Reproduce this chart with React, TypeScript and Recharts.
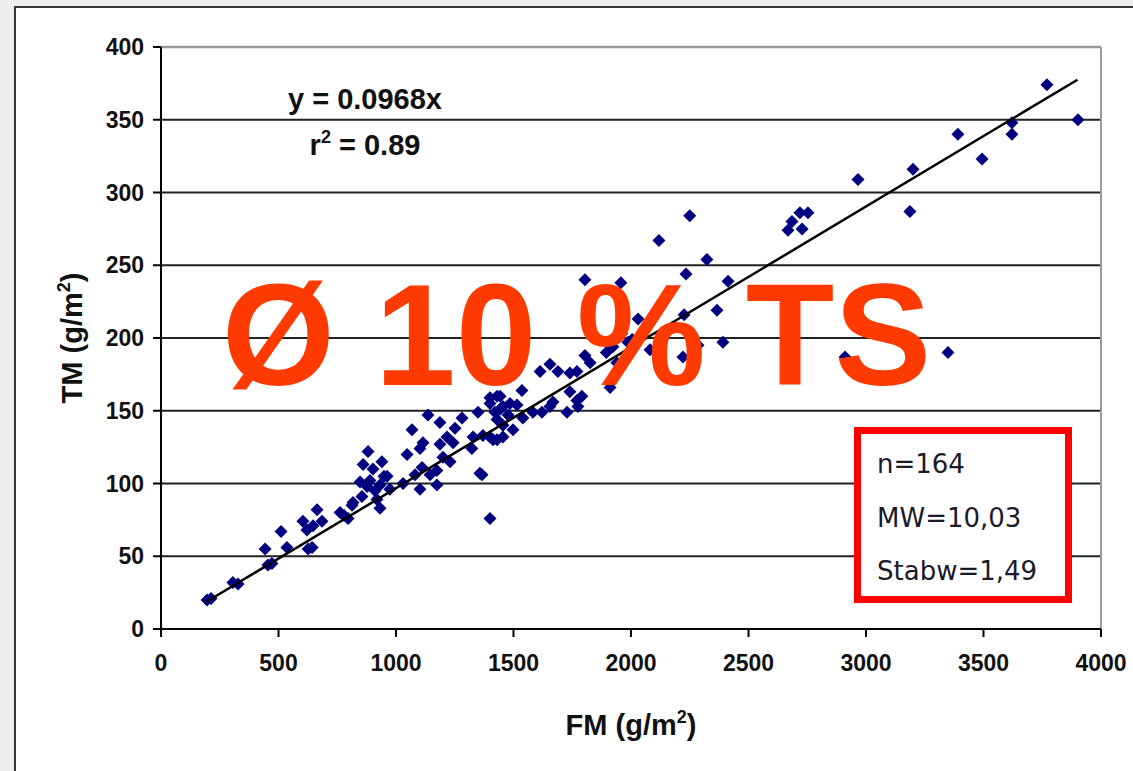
import { ScatterChart, Scatter, XAxis, YAxis, CartesianGrid, ReferenceLine } from 'recharts'

// FM (g/m²) and TM (g/m²), pairwise
const FM_VALUES = [
  196, 213, 306, 328, 443, 455, 472, 511, 536, 604, 621, 626, 643, 664, 685, 647,
  762, 779, 813, 796, 855, 847, 881, 860, 902, 940, 877, 911, 932, 949, 889, 919,
  1136, 1068, 1187, 1251, 1281, 1349, 1400, 1430, 1443, 1485, 1498, 1455, 1413, 1370,
  1328, 1217, 1243, 1187, 1115, 1102, 1047, 1200, 1230, 1174, 1145, 1111, 1081, 1102,
  1174, 1366, 1400, 962, 932, 974, 817, 1030,
  1804, 1826, 1655, 1613, 1689, 1740, 1770, 1940, 1911, 1536, 1443, 1400, 1515, 1455,
  1421, 1477, 1540, 1583, 1621, 1668, 1728, 1770, 1774, 1740, 1655, 1430, 1455, 1400,
  1430, 1323, 1357,
  2119, 2323, 1804, 1957, 2234, 2413, 2366, 2226, 2030, 2391, 2285, 2081, 1791, 2221,
  1987, 1923, 1960, 2005, 1895, 2250,
  2966, 3200, 3187, 2753, 2719, 2685, 2668, 2728, 2911,
  3770, 3902, 3621, 3621, 3494, 3391, 3349,
]
const TM_VALUES = [
  20, 21, 32, 31, 55, 44, 45, 67, 56, 74, 68, 55, 56, 82, 74, 71,
  80, 78, 85, 76, 91, 101, 122, 113, 110, 115, 98, 95, 83, 105, 102, 89,
  147, 137, 142, 138, 145, 149, 155, 160, 151, 155, 137, 132, 130, 133,
  132, 132, 128, 127, 128, 124, 120, 118, 115, 109, 106, 111, 106, 96,
  99, 106, 76, 105, 99, 96, 87, 100,
  188, 183, 182, 177, 177, 176, 177, 183, 166, 164, 160, 159, 154, 153,
  149, 147, 145, 149, 149, 156, 149, 157, 153, 163, 153, 144, 140, 132,
  130, 124, 107,
  267, 254, 240, 238, 244, 239, 219, 216, 213, 197, 195, 192, 160, 187,
  197, 194, 203, 199, 190, 284,
  309, 316, 287, 286, 286, 280, 274, 275, 187,
  374, 350, 348, 340, 323, 340, 190,
]

const X_TICKS = [0, 500, 1000, 1500, 2000, 2500, 3000, 3500, 4000]
const Y_TICKS = [0, 50, 100, 150, 200, 250, 300, 350, 400]

// linear fit through origin, as printed on the chart
const SLOPE = 0.0968
const TREND_X = [190, 3900]

const points = FM_VALUES.map((fm, i) => ({ x: fm, y: TM_VALUES[i] }))
const trend = TREND_X.map(x => ({ x, y: x * SLOPE }))

const NAVY = '#000080'
const RED_TEXT = '#ff3a00'
const FONT = "'Liberation Sans', Arial, sans-serif"

const Diamond = (props: any) => {
  const { cx, cy } = props
  const r = 6.5
  return <path d={`M${cx},${cy - r}L${cx + r},${cy}L${cx},${cy + r}L${cx - r},${cy}Z`} fill={NAVY} />
}

const tickStyle = { fill: '#111', fontSize: 23, fontWeight: 700, fontFamily: FONT }

export default function App() {
  return (
    <div style={{ position: 'fixed', left: 0, top: 0, width: 1133, height: 771, background: '#eeeeee', overflow: 'hidden' }}>
      <div style={{ position: 'absolute', left: 14, top: 6, width: 1140, height: 790, background: '#fff', border: '2px solid #3a3a3a' }} />
      <div style={{ position: 'absolute', left: 0, top: 0 }}>
        <ScatterChart width={1133} height={771} margin={{ top: 47, right: 32, bottom: 102, left: 101 }}>
          <CartesianGrid vertical={false} stroke="#222" strokeWidth={2} />
          <XAxis
            type="number"
            dataKey="x"
            domain={[0, 4000]}
            ticks={X_TICKS}
            interval={0}
            height={40}
            tick={tickStyle}
            tickSize={8}
            tickMargin={18}
            axisLine={{ stroke: '#000', strokeWidth: 2 }}
            tickLine={{ stroke: '#000', strokeWidth: 2 }}
          />
          <YAxis
            type="number"
            dataKey="y"
            domain={[0, 400]}
            ticks={Y_TICKS}
            interval={0}
            width={60}
            tick={tickStyle}
            tickSize={8}
            tickMargin={9}
            axisLine={{ stroke: '#000', strokeWidth: 2 }}
            tickLine={{ stroke: '#000', strokeWidth: 2 }}
          />
          <ReferenceLine y={400} stroke="#9a9a9a" strokeWidth={2.5} />
          <ReferenceLine x={4000} stroke="#9a9a9a" strokeWidth={2} />
          <Scatter data={points} shape={Diamond} isAnimationActive={false} />
          <Scatter
            data={trend}
            line={{ stroke: '#000', strokeWidth: 2.5 }}
            shape={() => <g />}
            isAnimationActive={false}
          />
        </ScatterChart>
      </div>
      <svg width={1133} height={771} style={{ position: 'absolute', left: 0, top: 0, pointerEvents: 'none' }}>
        <g fontFamily={FONT} fontWeight={700} fill="#111">
          <text x={365} y={109} textAnchor="middle" fontSize={29}>y = 0.0968x</text>
          <text x={365} y={155} textAnchor="middle" fontSize={29}>
            r<tspan dy={-12} fontSize={18}>2</tspan><tspan dy={12}> = 0.89</tspan>
          </text>
          <text x={631} y={735} textAnchor="middle" fontSize={29}>
            FM (g/m<tspan dy={-12} fontSize={18}>2</tspan><tspan dy={12}>)</tspan>
          </text>
          <text x={82} y={338} textAnchor="middle" fontSize={29} transform="rotate(-90 82 338)">
            TM (g/m<tspan dy={-12} fontSize={18}>2</tspan><tspan dy={12}>)</tspan>
          </text>
        </g>
        <text x={222} y={385} fontFamily={FONT} fontWeight={700} fontSize={145} fill={RED_TEXT}>Ø 10 % TS</text>
        <rect x={857.5} y={430.5} width={211} height={169} fill="#fff" stroke="#ff0000" strokeWidth={7} />
        <g fontFamily="'DejaVu Sans', Tahoma, sans-serif" fontSize={26} fill="#1a1a2a">
          <text x={877} y={473}>n=164</text>
          <text x={877} y={527}>MW=10,03</text>
          <text x={877} y={580}>Stabw=1,49</text>
        </g>
      </svg>
    </div>
  )
}
